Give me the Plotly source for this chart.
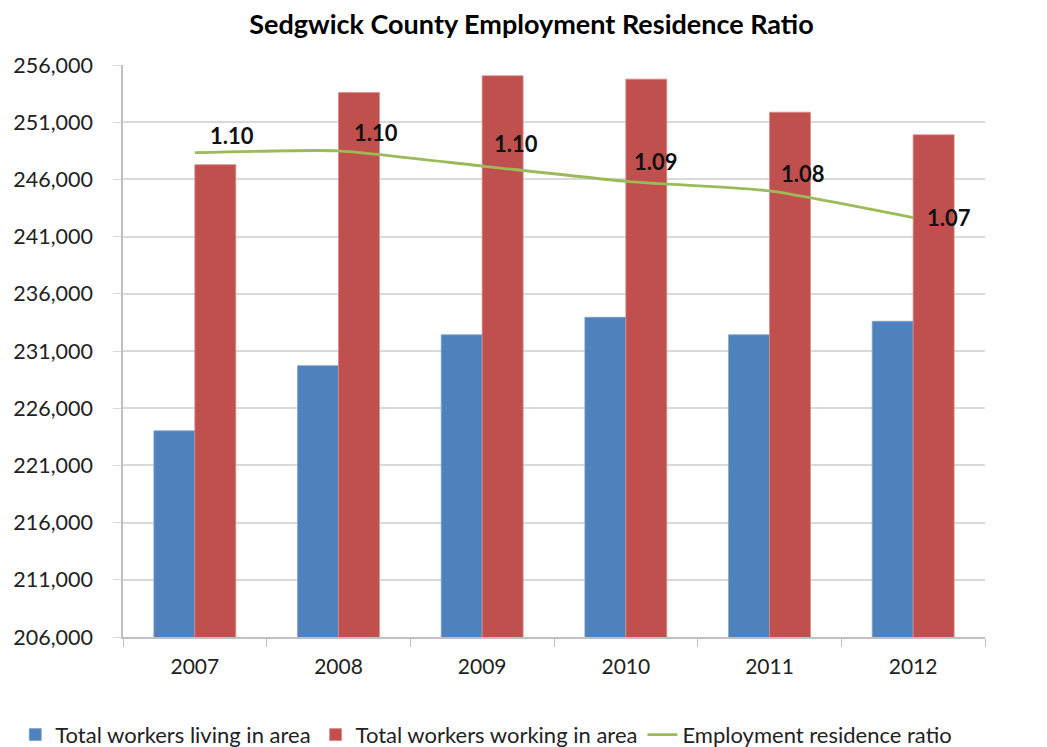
import plotly.graph_objects as go

years = ["2007", "2008", "2009", "2010", "2011", "2012"]
living = [224019, 229717, 232414, 233949, 232414, 233600]
working = [247286, 253586, 255056, 254765, 251877, 249895]
ratio = [1.104, 1.105, 1.097, 1.089, 1.084, 1.070]
y_ticks = [206000, 211000, 216000, 221000, 226000, 231000, 236000, 241000, 246000, 251000, 256000]

# label offsets in px (styling)
label_dx = [37, 37, 34, 30, 33, 36]
label_dy = [17, 18, 23, 20, 17, 0]

FONT = "Lato"

fig = go.Figure()
fig.add_trace(go.Bar(x=years, y=living, name="Total workers living in area",
                     marker=dict(color="#4F81BD", line=dict(color="#7FA2D0", width=0.8))))
fig.add_trace(go.Bar(x=years, y=working, name="Total workers working in area",
                     marker=dict(color="#C0504D", line=dict(color="#D88A88", width=0.8))))
fig.add_trace(go.Scatter(x=years, y=ratio, name="Employment residence ratio", yaxis="y2",
                         mode="lines", line=dict(color="#9BBB59", width=2.8, shape="spline", smoothing=0.5)))

annotations = []
for i, (r, dx, dy) in enumerate(zip(ratio, label_dx, label_dy)):
    annotations.append(dict(x=i, y=r, xref="x", yref="y2", text=f"{r:.2f}", showarrow=False,
                            xshift=dx, yshift=dy,
                            font=dict(family=FONT, size=22, color="#111111", weight="bold")))

fig.update_layout(
    width=1047, height=747,
    margin=dict(l=115, r=70, t=57, b=118, autoexpand=False),
    paper_bgcolor="white", plot_bgcolor="white",
    title=dict(text="<b>Sedgwick County Employment Residence Ratio</b>", x=0.5, xref="container",
               xanchor="center", y=0.978, yref="container", yanchor="middle",
               font=dict(family=FONT, size=27, color="#000000")),
    barmode="group", bargap=0.43, bargroupgap=0,
    xaxis=dict(type="category", showgrid=False, showline=True, linecolor="#BFBFBF", linewidth=1.5,
               ticks="outside", tickson="boundaries", ticklen=8, tickcolor="#BFBFBF",
               tickfont=dict(family=FONT, size=21, color="#222222"), ticklabelstandoff=10),
    yaxis=dict(range=[206000, 256000], tickvals=y_ticks, tickformat=",d",
               showgrid=True, gridcolor="#D9D9D9", gridwidth=1.5,
               showline=True, linecolor="#BFBFBF", linewidth=1.5,
               ticks="outside", ticklen=8, tickcolor="#D9D9D9",
               tickfont=dict(family=FONT, size=21.5, color="#222222"), zeroline=False,
               ticklabelstandoff=16),
    yaxis2=dict(range=[0.85, 1.15], overlaying="y", side="right", visible=False),
    legend=dict(orientation="h", x=-0.125, xanchor="left",
                y=-0.171, yanchor="middle",
                font=dict(family=FONT, size=22, color="#222222"), itemwidth=30,
                traceorder="normal"),
    annotations=annotations,
    showlegend=True,
)

fig.write_html("out.html")
